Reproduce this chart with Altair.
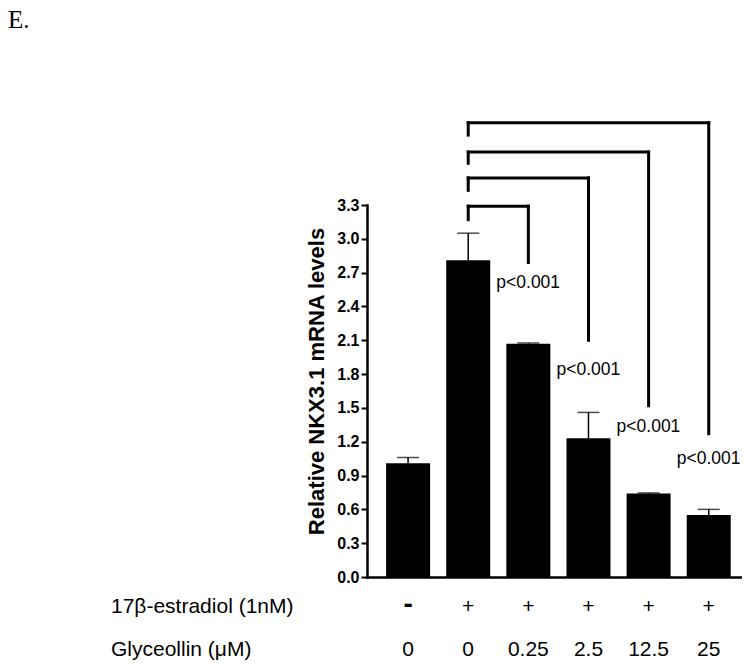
import altair as alt
import pandas as pd

# ---- data ----
groups = ["Control", "E2", "E2 + G 0.25", "E2 + G 2.5", "E2 + G 12.5", "E2 + G 25"]
estradiol_row = ["-", "+", "+", "+", "+", "+"]
glyceollin_row = ["0", "0", "0.25", "2.5", "12.5", "25"]
mean_levels = [1.01, 2.81, 2.07, 1.23, 0.74, 0.55]
error_up = [0.05, 0.24, 0.006, 0.23, 0.006, 0.05]
y_tick_values = [0.0, 0.3, 0.6, 0.9, 1.2, 1.5, 1.8, 2.1, 2.4, 2.7, 3.0, 3.3]

reference_group = 1
compared_groups = [2, 3, 4, 5]
bracket_top = [3.29, 3.54, 3.77, 4.03]
bracket_left_end = [3.17, 3.43, 3.67, 3.92]
bracket_right_end = [2.79, 2.10, 1.52, 1.27]
p_labels = ["p<0.001", "p<0.001", "p<0.001", "p<0.001"]
p_label_level = [2.61, 1.84, 1.33, 1.05]

panel_letter = "E."
row_titles = ["17\u03b2-estradiol (1nM)", "Glyceollin (\u03bcM)"]
y_title = "Relative NKX3.1 mRNA levels"

# ---- tables ----
bars = pd.DataFrame({
    "idx": list(range(len(groups))),
    "group": groups,
    "mean": mean_levels,
    "upper": [m + e for m, e in zip(mean_levels, error_up)],
    "e2": estradiol_row,
    "gly": glyceollin_row,
})
brk = pd.DataFrame({
    "ref": [reference_group] * len(compared_groups),
    "tgt": compared_groups,
    "top": bracket_top,
    "lend": bracket_left_end,
    "rend": bracket_right_end,
    "label": p_labels,
    "ly": p_label_level,
})

FONT = "Liberation Sans"
xscale = alt.Scale(domain=[-0.6, 5.47], nice=False, zero=False)
yscale = alt.Scale(domain=[0, 3.3], nice=False, zero=True)

xaxis = alt.Axis(labels=False, ticks=False, grid=False, title=None,
                 domainColor="black", domainWidth=2.5, domainCap="square")
yaxis = alt.Axis(values=y_tick_values, tickCount=len(y_tick_values) + 4,
                 format=".1f", grid=False,
                 labelFont=FONT, labelFontWeight="bold", labelFontSize=16,
                 labelColor="black", labelPadding=2, labelOverlap=False,
                 labelFlush=False, labelBound=False,
                 tickColor="black", tickSize=6, tickWidth=2,
                 domainColor="black", domainWidth=2.5, domainCap="square",
                 title=y_title, titleFont=FONT, titleFontWeight="bold",
                 titleFontSize=22, titleColor="black", titlePadding=8,
                 titleY=176)

base = alt.Chart(bars)

bar_layer = base.mark_bar(color="black", size=44).encode(
    x=alt.X("idx:Q", scale=xscale, axis=xaxis),
    y=alt.Y("mean:Q", scale=yscale, axis=yaxis),
)
err_layer = base.mark_rule(color="black", strokeWidth=1.5).encode(
    x=alt.X("idx:Q", title=None),
    y=alt.Y("mean:Q", title=y_title),
    y2="upper:Q",
)
cap_layer = base.mark_tick(color="black", orient="horizontal", size=22,
                           thickness=1.5).encode(
    x=alt.X("idx:Q", title=None),
    y=alt.Y("upper:Q", title=y_title),
)

bchart = alt.Chart(brk)
bl = dict(color="black", strokeWidth=3, strokeCap="square")
left_v = bchart.mark_rule(**bl).encode(
    x=alt.X("ref:Q", title=None), y=alt.Y("lend:Q", title=y_title), y2="top:Q")
horiz = bchart.mark_rule(**bl).encode(
    x=alt.X("ref:Q", title=None), x2="tgt:Q", y=alt.Y("top:Q", title=y_title))
right_v = bchart.mark_rule(**bl).encode(
    x=alt.X("tgt:Q", title=None), y=alt.Y("rend:Q", title=y_title), y2="top:Q")
p_text = bchart.mark_text(font=FONT, fontSize=17.5, color="black", align="left",
                          baseline="middle", dx=-32).encode(
    x=alt.X("tgt:Q", title=None), y=alt.Y("ly:Q", title=y_title), text="label:N")

row1_plus = base.transform_filter("datum.e2 != '-'").mark_text(
    font=FONT, fontSize=21, color="black", align="center", baseline="middle"
).encode(x=alt.X("idx:Q", title=None), y=alt.value(402), text="e2:N")
row1_minus = base.transform_filter("datum.e2 == '-'").mark_text(
    font=FONT, fontSize=28, fontWeight="bold", color="black", align="center",
    baseline="middle"
).encode(x=alt.X("idx:Q", title=None), y=alt.value(400), text="e2:N")
row2 = base.mark_text(font=FONT, fontSize=21, color="black", align="center",
                      baseline="middle").encode(
    x=alt.X("idx:Q", title=None), y=alt.value(445), text="gly:N")

title1 = alt.Chart(pd.DataFrame({"t": [row_titles[0]]})).mark_text(
    font=FONT, fontSize=21, color="black", align="left", baseline="middle"
).encode(x=alt.value(-256), y=alt.value(402), text="t:N")
title2 = alt.Chart(pd.DataFrame({"t": [row_titles[1]]})).mark_text(
    font=FONT, fontSize=21, color="black", align="left", baseline="middle"
).encode(x=alt.value(-256), y=alt.value(445), text="t:N")

letter = alt.Chart(pd.DataFrame({"t": [panel_letter]})).mark_text(
    font="Liberation Serif", fontSize=25, color="black", align="left",
    baseline="alphabetic"
).encode(x=alt.value(-359), y=alt.value(-177), text="t:N")

chart = alt.layer(
    bar_layer, err_layer, cap_layer, left_v, horiz, right_v, p_text,
    row1_plus, row1_minus, row2, title1, title2, letter
).properties(
    width=375, height=372,
    autosize=alt.AutoSizeParams(type="none"),
    padding={"left": 359, "top": 197, "right": 0, "bottom": 84},
    background="white",
).configure_view(stroke=None)

chart.save("out.html", embed_options={"renderer": "svg", "actions": False})
